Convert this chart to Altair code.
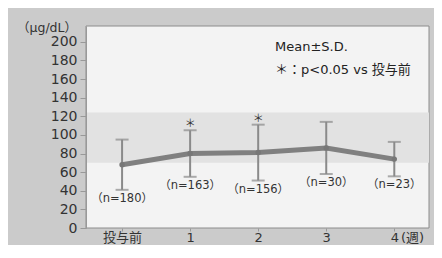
import altair as alt
import pandas as pd

cats = ["投与前", "1", "2", "3", "4"]
xpos = [0, 1, 2, 3, 4]
means = [68, 80, 81, 86, 74]
sds = [27, 25, 30, 28, 18.5]
ns = ["（n=180）", "（n=163）", "（n=156）", "（n=30）", "（n=23）"]
sig = ["", "＊", "＊", "", ""]
y_ticks = [0, 20, 40, 60, 80, 100, 120, 140, 160, 180, 200]
band = [70, 124]
x_dom = [-0.53, 4.51]
y_dom = [0, 217]
note_lines = ["Mean±S.D.", "＊：p<0.05 vs 投与前"]

df = pd.DataFrame({"x": xpos, "cat": cats, "mean": means, "sd": sds, "n": ns, "sig": sig})
df["lo"] = df["mean"] - df["sd"]
df["hi"] = df["mean"] + df["sd"]

FONT = "DejaVu Sans, Noto Sans CJK JP"
JFONT = "Noto Sans CJK JP"
GRAY = "#808080"

W, H = 343, 202
PAD = {"left": 78, "top": 18, "right": 5, "bottom": 17}

label_expr = "datum.value == 0 ? '投与前' : format(datum.value, 'd')"
xs = alt.Scale(domain=x_dom, nice=False, zero=False)
ys = alt.Scale(domain=y_dom, nice=False)
xax = alt.Axis(values=xpos, labelExpr=label_expr, title=None, grid=False,
               domain=False, tickColor="#999", tickSize=3, labelFont=FONT,
               labelFontSize=13, labelColor="#333", labelPadding=0, labelOverlap=False,
               zindex=1)
yax = alt.Axis(values=y_ticks, title=None, grid=False, domainColor="#999",
               tickColor="#999", tickSize=6, labelFont=FONT, labelFontSize=14,
               labelColor="#333", labelPadding=3, labelOverlap=False, zindex=1)


def X(f):
    return alt.X(f, scale=xs, axis=xax)


def Y(f):
    return alt.Y(f, scale=ys, axis=yax)


base = alt.Chart(df)

# outer gray background (drawn as a mark)
bg = alt.Chart(pd.DataFrame({"a": [0]})).mark_rect(color="#cbcbcb").encode(
    x=alt.value(-PAD["left"]), x2=alt.value(W + PAD["right"]),
    y=alt.value(-PAD["top"]), y2=alt.value(H + PAD["bottom"]))

area_df = pd.DataFrame({"x1": [x_dom[0]], "x2": [x_dom[1]], "y1": [y_dom[0]], "y2": [y_dom[1]]})
plot_bg = alt.Chart(area_df).mark_rect(color="#f3f3f3", stroke="#8c8c8c", strokeWidth=1).encode(
    x=X("x1:Q"), x2="x2:Q", y=Y("y1:Q"), y2="y2:Q")

band_df = pd.DataFrame({"x1": [x_dom[0]], "x2": [x_dom[1]], "y1": [band[0]], "y2": [band[1]]})
band_layer = alt.Chart(band_df).mark_rect(color="#e2e2e2").encode(
    x=X("x1:Q"), x2="x2:Q", y=Y("y1:Q"), y2="y2:Q")

err = base.mark_rule(color="#8a8a8a", strokeWidth=2).encode(x=X("x:Q"), y=Y("lo:Q"), y2="hi:Q")
cap_hi = base.mark_tick(color="#8a8a8a", thickness=2, size=13, orient="horizontal").encode(
    x=X("x:Q"), y=Y("hi:Q"))
cap_lo = base.mark_tick(color="#8a8a8a", thickness=2, size=13, orient="horizontal").encode(
    x=X("x:Q"), y=Y("lo:Q"))
line = base.mark_line(color=GRAY, strokeWidth=5).encode(x=X("x:Q"), y=Y("mean:Q"))
pts = base.mark_point(color="#777", filled=True, size=30, opacity=1).encode(x=X("x:Q"), y=Y("mean:Q"))
nlab = base.mark_text(font=FONT, fontSize=11.5, color="#333", baseline="middle", dy=9).encode(
    x=X("x:Q"), y=Y("lo:Q"), text="n:N")
star = base.mark_text(font=JFONT, fontSize=11, color="#333", baseline="bottom", dy=-1).encode(
    x=X("x:Q"), y=Y("hi:Q"), text="sig:N")

note1 = alt.Chart(pd.DataFrame({"t": [note_lines[0]]})).mark_text(
    font=FONT, fontSize=13, color="#222", align="left", baseline="middle").encode(
    x=alt.value(189), y=alt.value(21), text="t:N")
note2 = alt.Chart(pd.DataFrame({"t": [note_lines[1]]})).mark_text(
    font=FONT, fontSize=13, color="#222", align="left", baseline="middle").encode(
    x=alt.value(189), y=alt.value(44), text="t:N")

ytitle = alt.Chart(pd.DataFrame({"t": ["（μg/dL）"]})).mark_text(
    font=FONT, fontSize=12.5, color="#333", align="right", baseline="middle").encode(
    x=alt.value(-9), y=alt.value(2), text="t:N")
week = alt.Chart(pd.DataFrame({"t": ["(週)"]})).mark_text(
    font=FONT, fontSize=13, color="#333", align="left", baseline="middle").encode(
    x=alt.value(315), y=alt.value(H + 10), text="t:N")

chart = alt.layer(bg, plot_bg, band_layer, err, cap_hi, cap_lo, line, pts, nlab, star,
                  note1, note2, ytitle, week).properties(
    width=W, height=H,
    padding=PAD,
    autosize=alt.AutoSizeParams(type="none"),
).configure_view(stroke=None)

chart.save("out.html", embed_options={"renderer": "svg", "actions": False})
